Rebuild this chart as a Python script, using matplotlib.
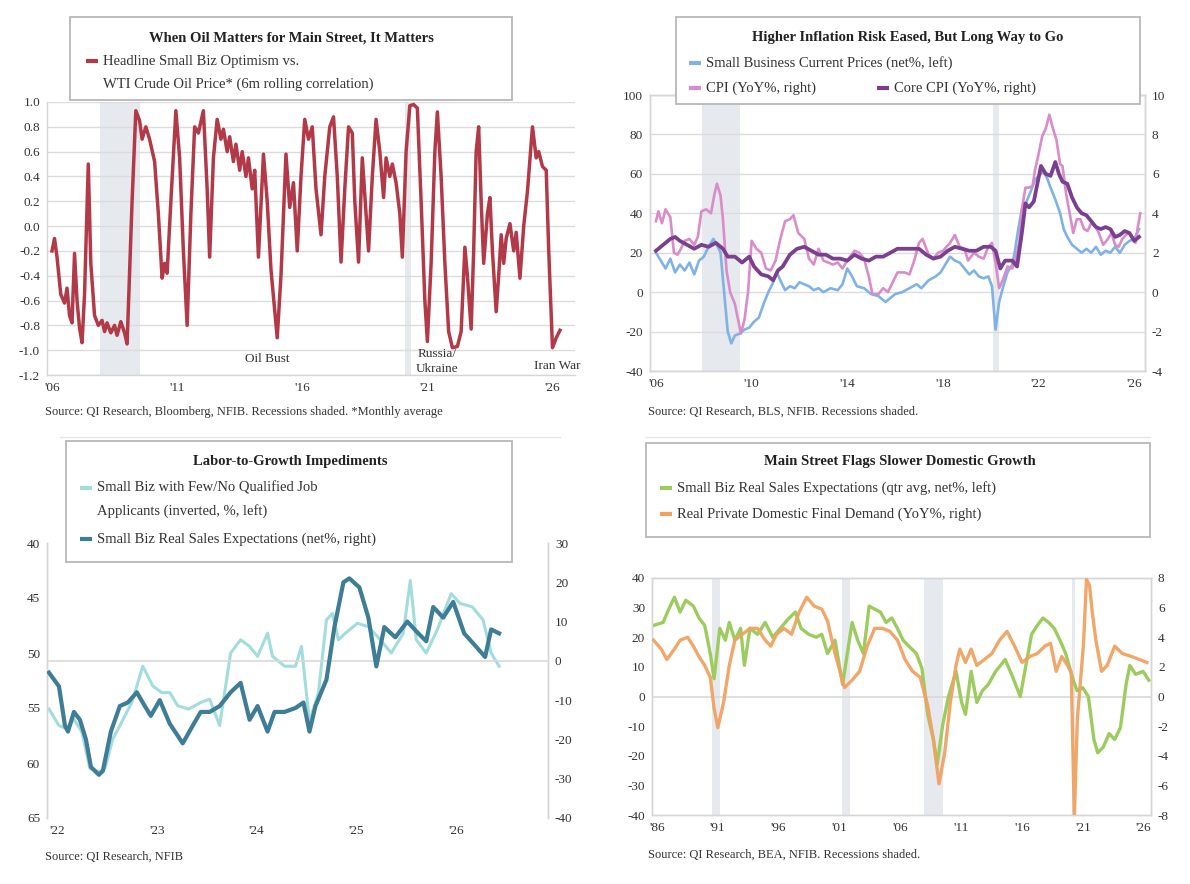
import matplotlib
matplotlib.use('Agg')
import matplotlib.pyplot as plt
from matplotlib.lines import Line2D
from matplotlib.patches import Rectangle

plt.rcParams['font.family'] = ['Liberation Serif', 'DejaVu Serif']
plt.rcParams['axes.unicode_minus'] = False

# ---------------- DATA ----------------
# Panel 1: 6m rolling correlation, small biz optimism vs WTI
p1_year = [2006.0, 2006.1, 2006.2, 2006.35, 2006.5, 2006.6, 2006.7, 2006.8, 2006.9, 2007.0,
           2007.1, 2007.2, 2007.3, 2007.45, 2007.55, 2007.7, 2007.85, 2008.0, 2008.1, 2008.2,
           2008.35, 2008.5, 2008.6, 2008.75, 2008.9, 2009.0, 2009.2, 2009.35, 2009.5, 2009.6,
           2009.75, 2009.9, 2010.1, 2010.25, 2010.4, 2010.5, 2010.6, 2010.75, 2010.95, 2011.1,
           2011.25, 2011.4, 2011.55, 2011.7, 2011.85, 2012.05, 2012.2, 2012.3, 2012.45, 2012.6,
           2012.75, 2012.85, 2013.0, 2013.1, 2013.25, 2013.35, 2013.5, 2013.6, 2013.75, 2013.85,
           2014.0, 2014.1, 2014.25, 2014.45, 2014.6, 2014.75, 2015.0, 2015.15, 2015.35, 2015.5,
           2015.65, 2015.8, 2015.95, 2016.1, 2016.25, 2016.4, 2016.55, 2016.75, 2016.9, 2017.1,
           2017.25, 2017.4, 2017.55, 2017.7, 2017.85, 2018.0, 2018.1, 2018.25, 2018.4, 2018.55,
           2018.65, 2018.8, 2018.95, 2019.1, 2019.25, 2019.35, 2019.5, 2019.6, 2019.75, 2019.9,
           2020.0, 2020.15, 2020.3, 2020.45, 2020.6, 2020.75, 2020.9, 2021.0, 2021.15, 2021.3,
           2021.4, 2021.55, 2021.7, 2021.85, 2022.0, 2022.2, 2022.35, 2022.5, 2022.6, 2022.75,
           2022.85, 2022.95, 2023.05, 2023.15, 2023.25, 2023.4, 2023.5, 2023.6, 2023.75, 2023.85,
           2023.95, 2024.05, 2024.15, 2024.3, 2024.45, 2024.55, 2024.7, 2024.85, 2025.0, 2025.2,
           2025.35, 2025.45, 2025.6, 2025.75, 2025.85, 2026.0, 2026.15, 2026.3]
p1_corr = [-0.20, -0.10, -0.25, -0.55, -0.62, -0.50, -0.72, -0.78, -0.22, -0.60,
           -0.82, -0.94, -0.55, 0.50, -0.30, -0.72, -0.80, -0.76, -0.85, -0.78,
           -0.86, -0.80, -0.88, -0.77, -0.86, -0.95, 0.20, 0.93, 0.85, 0.70,
           0.80, 0.70, 0.52, 0.10, -0.42, -0.30, -0.38, 0.20, 0.93, 0.55,
           -0.20, -0.80, 0.10, 0.80, 0.75, 0.93, 0.30, -0.25, 0.55, 0.86,
           0.70, 0.78, 0.60, 0.72, 0.52, 0.66, 0.45, 0.60, 0.40, 0.55,
           0.30, 0.45, -0.25, 0.58, 0.20, -0.35, -0.90, -0.40, 0.58, 0.15,
           0.35, -0.20, 0.40, 0.86, 0.70, 0.80, 0.30, -0.07, 0.40, 0.80,
           0.88, 0.40, -0.29, 0.30, 0.80, 0.75, 0.20, -0.29, 0.55, 0.10,
           -0.20, 0.40, 0.86, 0.60, 0.23, 0.55, 0.40, 0.50, 0.35, 0.10,
           -0.25, 0.60, 0.97, 0.98, 0.95, 0.20, -0.60, -0.93, -0.30, 0.60,
           0.92, 0.40, -0.30, -0.85, -0.98, -0.97, -0.85, -0.17, -0.40, -0.83,
           -0.20, 0.60, 0.80, 0.20, -0.30, 0.10, 0.23, -0.20, -0.69, -0.40,
           -0.07, -0.30, -0.10, 0.02, -0.20, -0.05, -0.42, 0.00, 0.28, 0.80,
           0.55, 0.60, 0.48, 0.45, -0.20, -0.98, -0.90, -0.84]
p1_yticks = [1.0, 0.8, 0.6, 0.4, 0.2, 0.0, -0.2, -0.4, -0.6, -0.8, -1.0, -1.2]
p1_xticks = [2006, 2011, 2016, 2021, 2026]
p1_xlabels = ["'06", "'11", "'16", "'21", "'26"]

# Panel 2: small biz current prices (left), CPI & Core CPI (right)
p2_sb_year = [2006.0, 2006.2, 2006.4, 2006.6, 2006.8, 2007.0, 2007.2, 2007.4, 2007.6, 2007.8,
              2008.0, 2008.2, 2008.4, 2008.55, 2008.7, 2008.85, 2009.0, 2009.15, 2009.3, 2009.5,
              2009.7, 2009.9, 2010.1, 2010.3, 2010.5, 2010.7, 2010.9, 2011.05, 2011.2, 2011.4,
              2011.6, 2011.8, 2012.0, 2012.2, 2012.4, 2012.6, 2012.8, 2013.0, 2013.3, 2013.6,
              2013.8, 2014.0, 2014.2, 2014.4, 2014.7, 2015.0, 2015.3, 2015.6, 2015.8, 2016.0,
              2016.3, 2016.6, 2016.9, 2017.1, 2017.4, 2017.7, 2017.9, 2018.1, 2018.3, 2018.5,
              2018.7, 2018.9, 2019.1, 2019.3, 2019.5, 2019.7, 2019.9, 2020.05, 2020.2, 2020.35,
              2020.5, 2020.7, 2020.9, 2021.0, 2021.15, 2021.3, 2021.5, 2021.7, 2021.85, 2022.0,
              2022.2, 2022.35, 2022.5, 2022.7, 2022.9, 2023.05, 2023.2, 2023.4, 2023.6, 2023.8,
              2024.0, 2024.2, 2024.4, 2024.6, 2024.8, 2025.0, 2025.2, 2025.4, 2025.6, 2025.8,
              2026.0, 2026.2]
p2_sb_prices = [20, 16, 12, 17, 10, 14, 11, 15, 9, 16,
                18, 23, 27, 24, 20, 0, -20, -26, -22, -21,
                -19, -18, -15, -13, -6, 0, 5, 10, 6, 1,
                3, 2, 5, 4, 3, 1, 2, 0, 2, 1,
                4, 12, 8, 3, 2, -1, -2, -5, -3, -1,
                0, 2, 4, 2, 6, 8, 10, 14, 18, 16,
                15, 12, 9, 11, 8, 7, 8, 3, -19, -5,
                2, 10, 14, 20, 32, 42, 46, 52, 57, 59,
                61, 58, 53, 47, 40, 32, 28, 24, 22, 20,
                22, 20, 23, 19, 21, 20, 23, 20, 24, 26,
                27, 32]
p2_cpi_year = [2006.0, 2006.1, 2006.25, 2006.4, 2006.6, 2006.75, 2006.9, 2007.0, 2007.2, 2007.4,
               2007.6, 2007.75, 2007.9, 2008.1, 2008.3, 2008.45, 2008.55, 2008.7, 2008.8, 2008.95,
               2009.1, 2009.3, 2009.45, 2009.55, 2009.7, 2009.85, 2010.0, 2010.2, 2010.4, 2010.6,
               2010.8, 2011.0, 2011.2, 2011.4, 2011.6, 2011.75, 2011.95, 2012.2, 2012.4, 2012.6,
               2012.8, 2013.0, 2013.2, 2013.4, 2013.6, 2013.8, 2014.0, 2014.3, 2014.5, 2014.7,
               2014.9, 2015.05, 2015.3, 2015.5, 2015.7, 2015.9, 2016.1, 2016.4, 2016.6, 2016.8,
               2017.0, 2017.15, 2017.4, 2017.6, 2017.8, 2018.0, 2018.3, 2018.5, 2018.7, 2018.9,
               2019.05, 2019.3, 2019.5, 2019.7, 2019.9, 2020.05, 2020.2, 2020.35, 2020.5, 2020.7,
               2020.9, 2021.05, 2021.2, 2021.3, 2021.45, 2021.6, 2021.75, 2021.85, 2022.0, 2022.15,
               2022.3, 2022.45, 2022.6, 2022.75, 2022.9, 2023.0, 2023.15, 2023.3, 2023.45, 2023.6,
               2023.75, 2023.9, 2024.05, 2024.2, 2024.4, 2024.55, 2024.7, 2024.9, 2025.05, 2025.2,
               2025.35, 2025.5, 2025.65, 2025.8, 2025.95, 2026.05, 2026.15, 2026.25]
p2_cpi = [3.6, 4.1, 3.5, 4.2, 3.8, 2.0, 1.9, 2.1, 2.6, 2.7,
          2.4, 2.8, 4.1, 4.2, 4.0, 5.0, 5.5, 4.9, 3.7, 1.1,
          0.0, -0.6, -1.5, -2.1, -1.4, 0.0, 2.6, 2.2, 2.0, 1.2,
          1.1, 1.6, 2.7, 3.6, 3.7, 3.9, 3.0, 2.7, 1.7, 1.4,
          2.2, 1.6, 1.5, 1.4, 1.5, 1.2, 1.6, 2.1, 2.0, 1.7,
          0.8, -0.1, -0.1, 0.2, 0.0, 0.5, 1.0, 1.0, 0.9, 1.6,
          2.5, 2.7, 1.9, 1.7, 2.0, 2.1, 2.5, 2.9, 2.3, 2.2,
          1.6, 2.0, 1.8, 1.7, 2.3, 2.5, 1.5, 0.2, 0.6, 1.3,
          1.2, 1.7, 2.6, 4.2, 5.3, 5.3, 5.4, 6.2, 7.0, 7.9,
          8.3, 9.0, 8.3, 7.7, 6.5, 6.4, 5.0, 4.0, 3.0, 3.7,
          3.7, 3.2, 3.1, 3.5, 3.3, 2.9, 2.4, 2.7, 3.0, 2.4,
          2.3, 2.7, 2.9, 3.0, 2.7, 2.5, 3.3, 4.0]
p2_core_year = [2006.0, 2006.3, 2006.6, 2006.8, 2007.0, 2007.3, 2007.6, 2007.9, 2008.2, 2008.5,
                2008.8, 2009.0, 2009.3, 2009.6, 2009.9, 2010.1, 2010.4, 2010.7, 2010.9, 2011.1,
                2011.3, 2011.6, 2011.9, 2012.2, 2012.5, 2012.8, 2013.1, 2013.4, 2013.7, 2014.0,
                2014.3, 2014.6, 2014.9, 2015.2, 2015.5, 2015.8, 2016.1, 2016.4, 2016.7, 2017.0,
                2017.3, 2017.6, 2017.9, 2018.2, 2018.5, 2018.8, 2019.1, 2019.4, 2019.7, 2020.0,
                2020.2, 2020.4, 2020.6, 2020.9, 2021.1, 2021.3, 2021.45, 2021.6, 2021.8, 2021.95,
                2022.1, 2022.3, 2022.5, 2022.7, 2022.85, 2023.0, 2023.2, 2023.4, 2023.6, 2023.8,
                2024.0, 2024.2, 2024.4, 2024.6, 2024.8, 2025.0, 2025.2, 2025.4, 2025.6, 2025.8,
                2026.0, 2026.2]
p2_core = [2.1, 2.4, 2.7, 2.8, 2.6, 2.4, 2.2, 2.4, 2.3, 2.5,
           2.2, 1.8, 1.8, 1.5, 1.8, 1.3, 0.9, 0.8, 0.6, 1.1,
           1.3, 1.9, 2.2, 2.3, 2.1, 1.9, 1.9, 1.7, 1.7, 1.6,
           1.9, 1.7, 1.6, 1.8, 1.8, 2.0, 2.2, 2.2, 2.2, 2.2,
           1.9, 1.7, 1.8, 2.1, 2.3, 2.2, 2.1, 2.1, 2.3, 2.3,
           2.1, 1.2, 1.6, 1.6, 1.3, 3.0, 4.5, 4.3, 4.6, 5.5,
           6.4, 6.0, 5.9, 6.6, 6.0, 5.6, 5.5, 4.8, 4.3, 4.0,
           3.9, 3.6, 3.3, 3.2, 3.3, 3.2, 2.8, 2.9, 3.1, 3.0,
           2.6, 2.8]
p2_lticks = [100, 80, 60, 40, 20, 0, -20, -40]
p2_rticks = [10, 8, 6, 4, 2, 0, -2, -4]
p2_xticks = [2006, 2010, 2014, 2018, 2022, 2026]
p2_xlabels = ["'06", "'10", "'14", "'18", "'22", "'26"]

# Panel 3: few/no qualified applicants (inverted, left) & real sales expectations (right)
p3_fq_year = [2021.92, 2022.02, 2022.10, 2022.17, 2022.25, 2022.33, 2022.42, 2022.48, 2022.56, 2022.63,
              2022.75, 2022.86, 2022.96, 2023.05, 2023.13, 2023.21, 2023.32, 2023.44, 2023.53, 2023.63,
              2023.74, 2023.84, 2023.93, 2024.01, 2024.11, 2024.16, 2024.28, 2024.39, 2024.45, 2024.53,
              2024.62, 2024.70, 2024.76, 2024.82, 2024.89, 2025.01, 2025.12, 2025.24, 2025.35, 2025.47,
              2025.54, 2025.60, 2025.70, 2025.81, 2025.95, 2026.04, 2026.16, 2026.27, 2026.35, 2026.43]
p3_few_qualified = [55.1, 56.6, 56.9, 56.0, 57.2, 60.5, 60.8, 60.5, 57.8, 56.6,
                    54.5, 51.2, 53.0, 53.6, 53.6, 54.8, 55.1, 54.5, 54.2, 56.6,
                    50.0, 48.8, 49.4, 50.3, 48.2, 50.3, 51.2, 51.2, 49.4, 56.3,
                    53.6, 47.0, 46.4, 48.8, 48.2, 47.3, 47.6, 48.8, 50.0, 48.2,
                    43.4, 48.8, 50.0, 47.9, 44.6, 45.5, 45.8, 47.0, 50.0, 51.2]
p3_se_year = [2021.92, 2022.02, 2022.08, 2022.11, 2022.17, 2022.23, 2022.29, 2022.34, 2022.42, 2022.46,
              2022.54, 2022.63, 2022.71, 2022.80, 2022.88, 2022.94, 2023.03, 2023.13, 2023.26, 2023.36,
              2023.44, 2023.53, 2023.63, 2023.74, 2023.84, 2023.93, 2024.01, 2024.11, 2024.18, 2024.28,
              2024.39, 2024.47, 2024.53, 2024.59, 2024.70, 2024.78, 2024.87, 2024.93, 2025.03, 2025.12,
              2025.20, 2025.28, 2025.39, 2025.51, 2025.62, 2025.70, 2025.77, 2025.87, 2025.97, 2026.08,
              2026.20, 2026.29, 2026.35, 2026.43]
p3_sales_exp = [-3, -6.5, -16.5, -18, -13, -15, -20, -27, -29, -28,
                -18, -11.5, -10.6, -8, -11.5, -14, -10, -16, -21, -16.5,
                -13, -13, -11.5, -8, -5.6, -15, -11.5, -18, -13, -13,
                -12, -10.6, -18, -11.5, -4.8, 8.6, 20, 21, 18.7, 11,
                -1.4, 8.6, 6, 10, 7, 5, 13.7, 11, 15, 7,
                3.6, 1, 8, 7]
p3_lticks = [40, 45, 50, 55, 60, 65]
p3_rticks = [30, 20, 10, 0, -10, -20, -30, -40]
p3_xticks = [2022, 2023, 2024, 2025, 2026]
p3_xlabels = ["'22", "'23", "'24", "'25", "'26"]

# Panel 4: small biz real sales expectations (qtr avg, left) & real private domestic final demand (right)
p4_se_year = [1985.73, 1986.51, 1986.98, 1987.44, 1987.91, 1988.37, 1989.00, 1989.46, 1989.93, 1990.39,
              1990.70, 1991.17, 1991.63, 1991.95, 1992.41, 1992.88, 1993.19, 1993.65, 1994.27, 1994.90,
              1995.52, 1996.14, 1996.76, 1997.38, 1997.85, 1998.47, 1999.09, 1999.55, 2000.02, 2000.64,
              2001.26, 2002.04, 2002.50, 2002.97, 2003.44, 2003.90, 2004.37, 2004.83, 2005.30, 2005.77,
              2006.23, 2006.70, 2007.32, 2007.78, 2008.25, 2008.72, 2009.03, 2009.49, 2009.96, 2010.58,
              2011.04, 2011.36, 2011.82, 2012.29, 2012.75, 2013.22, 2013.84, 2014.62, 2015.24, 2015.86,
              2016.32, 2016.79, 2017.26, 2017.72, 2018.19, 2018.65, 2019.12, 2019.59, 2020.21, 2020.52,
              2020.98, 2021.45, 2021.91, 2022.22, 2022.69, 2023.16, 2023.62, 2024.09, 2024.55, 2024.86,
              2025.33, 2025.95, 2026.42]
p4_sales_exp = [24, 25, 29.5, 33.5, 28.5, 32.5, 30.5, 26.5, 24, 14.5,
                6, 23, 19, 25, 19, 23, 10.5, 23, 21, 25,
                20, 23, 26, 28.5, 23, 21, 20, 21, 14.5, 19,
                4, 25, 19, 14.5, 30.5, 29.5, 28.5, 25, 26.5, 23,
                19, 17, 14.5, 9.5, -6, -14.5, -23, -9.5, 0, 8.5,
                -2, -6, 8.5, -2, 2, 4, 8.5, 12.5, 6.5, 0,
                10.5, 21, 24, 26.5, 25, 23, 19, 14.5, 5.5, 2,
                3, 0, -14.5, -19, -17, -12.5, -14.5, -10.5, 4, 10.5,
                7.5, 8.5, 5.5]
p4_dd_year = [1985.73, 1986.36, 1986.82, 1987.44, 1987.91, 1988.53, 1989.00, 1989.46, 1989.93, 1990.39,
              1990.70, 1991.01, 1991.48, 1991.95, 1992.41, 1993.03, 1993.65, 1994.27, 1994.90, 1995.36,
              1995.83, 1996.45, 1997.07, 1997.69, 1998.31, 1998.93, 1999.55, 2000.02, 2000.64, 2001.42,
              2002.04, 2002.66, 2003.28, 2003.90, 2004.52, 2005.14, 2005.77, 2006.39, 2007.01, 2007.63,
              2008.25, 2008.72, 2009.18, 2009.65, 2010.11, 2010.58, 2010.89, 2011.36, 2011.82, 2012.29,
              2012.91, 2013.53, 2014.15, 2014.77, 2015.39, 2016.01, 2016.63, 2017.26, 2017.88, 2018.34,
              2018.81, 2019.27, 2019.74, 2020.05, 2020.30, 2020.55, 2020.80, 2021.05, 2021.30, 2021.55,
              2021.80, 2022.07, 2022.54, 2023.00, 2023.62, 2024.24, 2025.02, 2025.64, 2026.26]
p4_final_demand = [3.8, 3.2, 2.5, 3.2, 3.8, 4.0, 3.4, 2.7, 2.1, 1.3,
                   -0.8, -2.1, -0.4, 2.1, 3.8, 4.2, 4.6, 4.6, 3.8, 3.4,
                   4.2, 4.6, 4.2, 5.7, 6.7, 6.1, 5.9, 5.1, 2.9, 0.6,
                   1.1, 1.7, 3.4, 4.6, 4.6, 4.4, 3.8, 2.5, 1.7, 1.3,
                   -0.6, -2.9, -5.9, -3.8, -0.4, 2.1, 3.2, 2.3, 3.2, 2.1,
                   2.5, 2.9, 3.8, 4.4, 3.4, 2.3, 2.7, 2.9, 3.4, 3.6,
                   1.7, 2.7, 2.1, 1.6, -8.2, -1.5, 1.0, 3.5, 7.9, 7.5,
                   5.5, 3.8, 1.7, 2.1, 3.4, 2.9, 2.7, 2.5, 2.3]
p4_lticks = [40, 30, 20, 10, 0, -10, -20, -30, -40]
p4_rticks = [8, 6, 4, 2, 0, -2, -4, -6, -8]
p4_xticks = [1986, 1991, 1996, 2001, 2006, 2011, 2016, 2021, 2026]
p4_xlabels = ["'86", "'91", "'96", "'01", "'06", "'11", "'16", "'21", "'26"]

recessions = [(1990.5, 1991.2), (2001.2, 2001.9), (2007.92, 2009.5), (2020.1, 2020.35)]

# ---------------- FIGURE ----------------
W, H = 1190, 884
fig = plt.figure(figsize=(W / 100, H / 100), dpi=100)
fig.patch.set_facecolor('white')

def fx(x):
    return x / W

def fy(y):
    return 1 - y / H

def make_axes(x0, y0, x1, y1):
    return fig.add_axes([fx(x0), fy(y1), (x1 - x0) / W, (y1 - y0) / H])

SPINE = '#d6d6d6'
TXT = '#333333'
SHADE = '#e6e9ed'

def style(ax, spines):
    for s in ax.spines:
        ax.spines[s].set_visible(s in spines)
        ax.spines[s].set_color(SPINE)
        ax.spines[s].set_linewidth(1.0)
    ax.tick_params(length=0, labelsize=9.5, colors=TXT, pad=5)

def shade(ax, lo, hi):
    for a, b in recessions:
        if b > lo and a < hi:
            ax.axvspan(a, b, color=SHADE, lw=0, zorder=0)

def legend_box(x0, y0, x1, y1, title, tx, ty, entries):
    fig.add_artist(Rectangle((fx(x0), fy(y1)), (x1 - x0) / W, (y1 - y0) / H,
                             transform=fig.transFigure, facecolor='white',
                             edgecolor='#b8b8b8', lw=1.3, zorder=5))
    fig.text(fx(tx), fy(ty), title, ha='center', va='center', fontsize=10.5,
             fontweight='bold', color='#222222', zorder=6)
    for color, lw, mx, lines in entries:
        my = lines[0][1]
        fig.add_artist(Line2D([fx(mx), fx(mx + 12)], [fy(my), fy(my)],
                              transform=fig.transFigure, color=color, lw=lw,
                              solid_capstyle='butt', zorder=6))
        for text, ly in lines:
            fig.text(fx(mx + 17), fy(ly), text, ha='left', va='center',
                     fontsize=10.5, color='#333333', zorder=6)

# ---------- Panel 1 ----------
ax1 = make_axes(47, 102, 575, 375)
style(ax1, ('left', 'bottom'))
ax1.set_xlim(2005.8, 2026.9)
ax1.set_ylim(-1.2, 1.0)
shade(ax1, 2005.8, 2026.9)
ax1.set_yticks(p1_yticks)
ax1.set_yticklabels([f'{v:.1f}' for v in p1_yticks])
ax1.yaxis.grid(True, color='#dcdcdc', lw=1.0, zorder=0)
ax1.set_axisbelow(True)
ax1.set_xticks(p1_xticks)
ax1.set_xticklabels(p1_xlabels)
ax1.plot(p1_year, p1_corr, color='#b23a48', lw=2.5, zorder=3)
ax1.text(2014.6, -1.07, 'Oil Bust', ha='center', va='center', fontsize=9.5, color=TXT)
ax1.text(2021.4, -1.09, 'Russia/\nUkraine', ha='center', va='center', fontsize=9.5,
         color=TXT, linespacing=1.3)
ax1.text(2026.2, -1.13, 'Iran War', ha='center', va='center', fontsize=9.5, color=TXT)
fig.text(fx(45), fy(412), 'Source: QI Research, Bloomberg, NFIB. Recessions shaded. *Monthly average',
         ha='left', va='center', fontsize=9, color=TXT)
legend_box(70, 17, 512, 100, 'When Oil Matters for Main Street, It Matters', 291, 38,
           [('#b23a48', 3, 86, [('Headline Small Biz Optimism vs.', 61),
                                ('WTI Crude Oil Price* (6m rolling correlation)', 84)])])

# ---------- Panel 2 ----------
ax2 = make_axes(650, 95, 1145, 371)
style(ax2, ('left', 'right', 'bottom', 'top'))
ax2.set_xlim(2005.75, 2026.45)
ax2.set_ylim(-40, 100)
shade(ax2, 2005.75, 2026.45)
ax2.set_yticks(p2_lticks)
ax2.yaxis.grid(True, color='#dcdcdc', lw=1.0, zorder=0)
ax2.set_axisbelow(True)
ax2.set_xticks(p2_xticks)
ax2.set_xticklabels(p2_xlabels)
ax2r = ax2.twinx()
style(ax2r, ('left', 'right', 'bottom', 'top'))
ax2r.set_ylim(-4, 10)
ax2r.set_yticks(p2_rticks)
ax2.plot(p2_sb_year, p2_sb_prices, color='#7fb2e5', lw=1.9, zorder=3)
ax2r.plot(p2_cpi_year, p2_cpi, color='#d98cc9', lw=1.9, zorder=3)
ax2r.plot(p2_core_year, p2_core, color='#7a3f8e', lw=2.7, zorder=4)
fig.text(fx(648), fy(412), 'Source: QI Research, BLS, NFIB. Recessions shaded.',
         ha='left', va='center', fontsize=9, color=TXT)
legend_box(676, 17, 1140, 104, 'Higher Inflation Risk Eased, But Long Way to Go', 908, 38,
           [('#7fb2e5', 3, 689, [('Small Business Current Prices (net%, left)', 63)]),
            ('#d98cc9', 3, 689, [('CPI (YoY%, right)', 88)]),
            ('#7a3f8e', 3, 877, [('Core CPI (YoY%, right)', 88)])])

# separator lines under the top row
for xa, xb in [(60, 560), (645, 1150)]:
    fig.add_artist(Line2D([fx(xa), fx(xb)], [fy(437), fy(437)], transform=fig.transFigure,
                          color='#e6e6e6', lw=1.0))

# ---------- Panel 3 ----------
ax3 = make_axes(47, 543, 548, 818)
style(ax3, ('left', 'right'))
ax3.set_xlim(2021.9, 2026.92)
ax3.set_ylim(65, 40)
ax3.set_yticks(p3_lticks)
ax3.set_xticks(p3_xticks)
ax3.set_xticklabels(p3_xlabels)
ax3r = ax3.twinx()
style(ax3r, ('left', 'right'))
ax3r.set_ylim(-40, 30)
ax3r.set_yticks(p3_rticks)
ax3r.axhline(0, color='#d9d9d9', lw=1.2, zorder=1)
ax3.plot(p3_fq_year, p3_few_qualified, color='#a3dcdc', lw=2.2, zorder=3)
ax3r.plot(p3_se_year, p3_sales_exp, color='#3d7d96', lw=3.0, zorder=4)
fig.text(fx(45), fy(857), 'Source: QI Research, NFIB',
         ha='left', va='center', fontsize=9, color=TXT)
legend_box(66, 441, 512, 562, 'Labor-to-Growth Impediments', 290, 462,
           [('#a3dcdc', 3, 80, [('Small Biz with Few/No Qualified Job', 488),
                                ('Applicants (inverted, %, left)', 511)]),
            ('#3d7d96', 3, 80, [('Small Biz Real Sales Expectations (net%, right)', 539)])])

# ---------- Panel 4 ----------
ax4 = make_axes(652, 578, 1151, 815)
style(ax4, ('left', 'right', 'bottom', 'top'))
ax4.set_xlim(1985.6, 2026.6)
ax4.set_ylim(-40, 40)
shade(ax4, 1985.6, 2026.6)
ax4.set_yticks(p4_lticks)
ax4.set_xticks(p4_xticks)
ax4.set_xticklabels(p4_xlabels)
ax4.axhline(0, color='#d9d9d9', lw=1.2, zorder=1)
ax4r = ax4.twinx()
style(ax4r, ('left', 'right', 'bottom', 'top'))
ax4r.set_ylim(-8, 8)
ax4r.set_yticks(p4_rticks)
ax4.plot(p4_se_year, p4_sales_exp, color='#9ccc5e', lw=2.4, zorder=3)
ax4r.plot(p4_dd_year, p4_final_demand, color='#f0a262', lw=2.4, zorder=3, alpha=0.95)
fig.text(fx(648), fy(855), 'Source: QI Research, BEA, NFIB. Recessions shaded.',
         ha='left', va='center', fontsize=9, color=TXT)
legend_box(646, 443, 1150, 537, 'Main Street Flags Slower Domestic Growth', 900, 462,
           [('#9ccc5e', 3, 660, [('Small Biz Real Sales Expectations (qtr avg, net%, left)', 488)]),
            ('#f0a262', 3, 660, [('Real Private Domestic Final Demand (YoY%, right)', 514)])])

fig.savefig('out.png', dpi=100, facecolor='white')
